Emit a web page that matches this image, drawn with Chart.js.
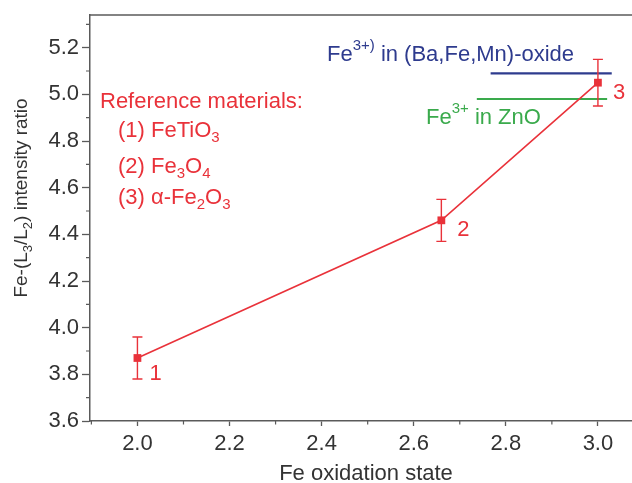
<!DOCTYPE html>
<html><head><meta charset="utf-8">
<script src="https://cdn.jsdelivr.net/npm/chart.js@4.4.1/dist/chart.umd.min.js"></script>
<style>html,body{margin:0;padding:0;background:#fff;}#wrap{width:632px;height:483px;}</style>
</head><body><div id="wrap"><canvas id="c" width="632" height="483"></canvas></div>
<script>
// ---- data ----
const oxidationState = [2.0, 2.66, 3.0];
const intensityRatio = [3.87, 4.46, 5.05];
const ratioError = [0.09, 0.09, 0.10];
const pointLabels = ['1', '2', '3'];
const baFeMnX = [2.767, 3.03];
const baFeMnRatio = 5.09;
const znoX = [2.737, 3.02];
const znoRatio = 4.98;
const xTicks = [2.0, 2.2, 2.4, 2.6, 2.8, 3.0];
const xMinorTicks = [1.9, 2.1, 2.3, 2.5, 2.7, 2.9];
const yTicks = [3.6, 3.8, 4.0, 4.2, 4.4, 4.6, 4.8, 5.0, 5.2];
const yMinorTicks = [3.7, 3.9, 4.1, 4.3, 4.5, 4.7, 4.9, 5.1, 5.3];

// ---- style ----
const FONT = "'Liberation Sans', Arial, sans-serif";
const RED = '#e9323a';
const BLUE = '#2e3b8e';
const GREEN = '#3aaa4c';
const AXIS = '#5a5a5a';
const TEXT = '#333333';

function drawRich(ctx, segs, x, y, size, color, align) {
  const small = Math.round(size * 0.7);
  const parts = segs.map(([t, k]) => {
    const s = k ? small : size;
    ctx.font = s + 'px ' + FONT;
    return { t, k, s, w: ctx.measureText(t).width };
  });
  const total = parts.reduce((a, p) => a + p.w, 0);
  let cx = align === 'center' ? x - total / 2 : x;
  ctx.fillStyle = color;
  ctx.textAlign = 'left';
  ctx.textBaseline = 'alphabetic';
  for (const p of parts) {
    ctx.font = p.s + 'px ' + FONT;
    let dy = 0;
    if (p.k === 'sub') dy = size * 0.24;
    if (p.k === 'sup') dy = -size * 0.5;
    ctx.fillText(p.t, cx, y + dy);
    cx += p.w;
  }
}

const decor = {
  id: 'decor',
  afterDatasetsDraw(chart) {
    const ctx = chart.ctx;
    const xs = chart.scales.x, ys = chart.scales.y;
    const area = chart.chartArea;
    ctx.save();
    // top frame line
    ctx.strokeStyle = AXIS; ctx.lineWidth = 1.5;
    ctx.beginPath(); ctx.moveTo(area.left, area.top); ctx.lineTo(chart.width, area.top); ctx.stroke();
    // minor ticks
    ctx.lineWidth = 1.2;
    ctx.beginPath();
    xMinorTicks.forEach(v => { const px = xs.getPixelForValue(v); ctx.moveTo(px, area.bottom); ctx.lineTo(px, area.bottom + 3.5); });
    yMinorTicks.forEach(v => { const py = ys.getPixelForValue(v); ctx.moveTo(area.left, py); ctx.lineTo(area.left - 4, py); });
    ctx.stroke();
    // error bars
    ctx.strokeStyle = RED; ctx.lineWidth = 1.4;
    oxidationState.forEach((xv, i) => {
      const px = xs.getPixelForValue(xv);
      const top = ys.getPixelForValue(intensityRatio[i] + ratioError[i]);
      const bot = ys.getPixelForValue(intensityRatio[i] - ratioError[i]);
      ctx.beginPath();
      ctx.moveTo(px, top); ctx.lineTo(px, bot);
      ctx.moveTo(px - 5, top); ctx.lineTo(px + 5, top);
      ctx.moveTo(px - 5, bot); ctx.lineTo(px + 5, bot);
      ctx.stroke();
    });
    // point labels
    const offs = [[12, 22], [16, 16], [15, 16]];
    oxidationState.forEach((xv, i) => {
      const px = xs.getPixelForValue(xv), py = ys.getPixelForValue(intensityRatio[i]);
      drawRich(ctx, [[pointLabels[i], '']], px + offs[i][0], py + offs[i][1], 22, RED, 'left');
    });
    // reference list
    drawRich(ctx, [['Reference materials:', '']], 100, 108, 22, RED, 'left');
    drawRich(ctx, [['(1) FeTiO', ''], ['3', 'sub']], 118, 137, 22, RED, 'left');
    drawRich(ctx, [['(2) Fe', ''], ['3', 'sub'], ['O', ''], ['4', 'sub']], 118, 173, 22, RED, 'left');
    drawRich(ctx, [['(3) \u03b1-Fe', ''], ['2', 'sub'], ['O', ''], ['3', 'sub']], 118, 204, 22, RED, 'left');
    // line labels
    drawRich(ctx, [['Fe', ''], ['3+)', 'sup'], [' in (Ba,Fe,Mn)-oxide', '']], 327, 61, 22, BLUE, 'left');
    drawRich(ctx, [['Fe', ''], ['3+', 'sup'], [' in ZnO', '']], 426, 124, 22, GREEN, 'left');
    // axis titles
    drawRich(ctx, [['Fe oxidation state', '']], 366, 480, 22, TEXT, 'center');
    ctx.save();
    ctx.translate(27, 198);
    ctx.rotate(-Math.PI / 2);
    drawRich(ctx, [['Fe-(L', ''], ['3', 'sub'], ['/L', ''], ['2', 'sub'], [') intensity ratio', '']], 0, 0, 19, TEXT, 'center');
    ctx.restore();
    ctx.restore();
  }
};

new Chart(document.getElementById('c'), {
  type: 'scatter',
  data: {
    datasets: [
      {
        data: oxidationState.map((x, i) => ({ x, y: intensityRatio[i] })),
        showLine: true, borderColor: RED, backgroundColor: RED, borderWidth: 1.6,
        pointStyle: 'rect', pointRadius: 5.5, pointBorderWidth: 0, tension: 0
      },
      {
        data: baFeMnX.map(x => ({ x, y: baFeMnRatio })),
        showLine: true, borderColor: BLUE, borderWidth: 2.2, pointRadius: 0
      },
      {
        data: znoX.map(x => ({ x, y: znoRatio })),
        showLine: true, borderColor: GREEN, borderWidth: 2.2, pointRadius: 0
      }
    ]
  },
  options: {
    responsive: false, animation: false, events: [],
    layout: { autoPadding: false, padding: { top: 15, right: 0, left: 0, bottom: 0 } },
    plugins: { legend: { display: false }, tooltip: { enabled: false } },
    scales: {
      x: {
        type: 'linear', min: 1.897, max: 3.074,
        afterBuildTicks: s => { s.ticks = xTicks.map(v => ({ value: v })); },
        afterFit: s => { s.height = 62; s.paddingRight = 0; s.paddingLeft = 0; },
        ticks: { font: { family: FONT, size: 22 }, color: TEXT, padding: 5, maxRotation: 0, autoSkip: false, callback: v => Number(v).toFixed(1) },
        grid: { drawOnChartArea: false, drawTicks: true, tickLength: 5, tickColor: AXIS, tickWidth: 1.3 },
        border: { color: AXIS, width: 1.5 }
      },
      y: {
        type: 'linear', min: 3.6, max: 5.34,
        afterBuildTicks: s => { s.ticks = yTicks.map(v => ({ value: v })); },
        afterFit: s => { s.width = 90; s.paddingTop = 0; s.paddingBottom = 0; },
        ticks: { font: { family: FONT, size: 22 }, color: TEXT, padding: 3, autoSkip: false, callback: v => Number(v).toFixed(1) },
        grid: { drawOnChartArea: false, drawTicks: true, tickLength: 8, tickColor: AXIS, tickWidth: 1.3 },
        border: { color: AXIS, width: 1.5 }
      }
    }
  },
  plugins: [decor]
});
</script>
</body></html>
